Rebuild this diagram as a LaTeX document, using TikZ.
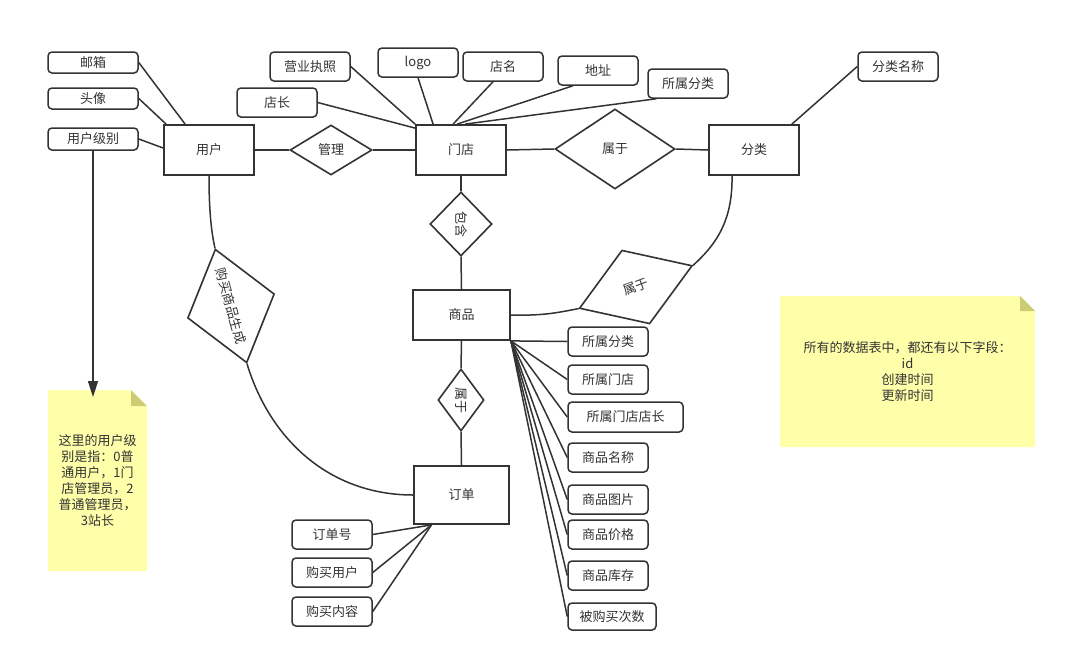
\documentclass[tikz,border=0pt]{standalone}
\usepackage{fontspec}
\setmainfont{Noto Sans CJK SC}
\usetikzlibrary{shapes.geometric,calc,arrows.meta}
\definecolor{ln}{HTML}{333333}
\definecolor{notey}{HTML}{FFFFAA}
\definecolor{notef}{HTML}{CCCC77}
\begin{document}
\begin{tikzpicture}[x=1pt,y=-1pt, font=\fontsize{13}{16}\selectfont, text=ln,
 ent/.style={draw=ln, line width=1.8pt, fill=white, minimum width=90pt, minimum height=50pt, inner sep=0pt},
 rel/.style={draw=ln, diamond, line width=1.6pt, fill=white, inner sep=0pt},
 attr/.style={draw=ln, rounded corners=4pt, line width=1.5pt, fill=white, minimum width=80pt, minimum height=29pt, inner sep=0pt},
 conn/.style={draw=ln, line width=1.5pt},
]
\useasboundingbox[fill=white] (0,0) rectangle (1068,662);

% notes
\fill[notey] (48,390) -- (131,390) -- (147,406) -- (147,571) -- (48,571) -- cycle;
\fill[notef] (131,390) -- (147,406) -- (131,406) -- cycle;
\node[align=center] (note1) at (97.5,480.5) {这里的用户级\\别是指：0普\\通用户，1门\\店管理员，2\\普通管理员，\\3站长};
\fill[notey] (780,296) -- (1020,296) -- (1035,311) -- (1035,447) -- (780,447) -- cycle;
\fill[notef] (1020,296) -- (1035,311) -- (1020,311) -- cycle;
\node[align=center, font=\fontsize{13}{15.7}\selectfont] (note2) at (907.5,371.5) {所有的数据表中，都还有以下字段：\\id\\创建时间\\更新时间};

% entities
\node[ent] (user) at (209,150) {用户};
\node[ent] (store) at (461,150) {门店};
\node[ent] (cls) at (754,150) {分类};
\node[ent, minimum width=97pt] (goods) at (461.5,315) {商品};
\node[ent, minimum width=95pt, minimum height=58pt] (order) at (461.5,495) {订单};

% relations
\node[rel, minimum width=82pt, minimum height=50pt] (manage) at (331,150) {管理};
\node[rel, minimum width=120pt, minimum height=80pt] (belong1) at (615,149) {属于};
\node[rel, minimum width=62pt, minimum height=64pt] (contain) at (461,224) {\rotatebox{-90}{包含}};
\node[rel, minimum width=46pt, minimum height=62pt] (belong2) at (461,400) {\rotatebox{-90}{属于}};
\node[rel, rotate=-74.5, minimum width=118pt, minimum height=86.5pt] (buy) at (231,306) {购买商品生成};
\node[rel, rotate=20.7, minimum width=120.8pt, minimum height=78.8pt] (belong3) at (635.8,287) {属于};

% user attributes
\node[attr, minimum width=90pt, minimum height=21pt] (mail) at (93,62.5) {邮箱};
\node[attr, minimum width=90pt, minimum height=21pt] (avatar) at (93,98.5) {头像};
\node[attr, minimum width=90pt, minimum height=22pt] (level) at (93,139) {用户级别};

% store attributes
\node[attr] (lic) at (310,66.5) {营业执照};
\node[attr] (owner) at (277,102.5) {店长};
\node[attr] (logo) at (418,62.5) {logo};
\node[attr] (sname) at (503,66.5) {店名};
\node[attr] (addr) at (598,70.5) {地址};
\node[attr] (scls) at (688,83.5) {所属分类};

% class attribute
\node[attr] (cname) at (898,66.5) {分类名称};

% goods attributes
\node[attr] (g1) at (608,341.5) {所属分类};
\node[attr] (g2) at (608,379.5) {所属门店};
\node[attr, minimum width=115pt, minimum height=30pt] (g3) at (625.5,417) {所属门店店长};
\node[attr] (g4) at (608,457.5) {商品名称};
\node[attr] (g5) at (608,499.5) {商品图片};
\node[attr] (g6) at (608,534.5) {商品价格};
\node[attr] (g7) at (608,575.5) {商品库存};
\node[attr, minimum width=88pt, minimum height=27pt] (g8) at (612,616.5) {被购买次数};

% order attributes
\node[attr] (o1) at (332,534.5) {订单号};
\node[attr] (o2) at (332,572.5) {购买用户};
\node[attr] (o3) at (332,611.5) {购买内容};

% connectors: user
\draw[conn] (mail.east) -- ($(user.north west)+(22,0)$);
\draw[conn] (avatar.east) -- ($(user.north west)+(3,0)$);
\draw[conn] (level.east) -- ($(user.west)+(0,-2)$);
\coordinate (lvtip) at (93,397);
\draw[conn, -{Triangle[length=16pt,width=10pt]}] (level.south) -- (lvtip);

\draw[conn] (user.east) -- (manage.west);
\draw[conn] (manage.east) -- (store.west);

% store attributes
\draw[conn] (lic.east) -- (store.north west);
\draw[conn] (owner.east) -- ($(store.north west)+(0,4)$);
\draw[conn] (logo.south) -- ($(store.north west)+(18,0)$);
\draw[conn] ($(sname.south)+(-10,0)$) -- ($(store.north west)+(38,0)$);
\draw[conn] ($(addr.south)+(-25,0)$) -- ($(store.north west)+(42,0)$);
\draw[conn] ($(scls.south west)+(9,0)$) -- ($(store.north west)+(50,0)$);

\draw[conn] (store.east) -- (belong1.west);
\draw[conn] (belong1.east) -- (cls.west);
\draw[conn] (cname.west) -- ($(cls.north east)+(-8,0)$);

\draw[conn] (store.south) -- (contain.north);
\draw[conn] (contain.south) -- (goods.north);
\draw[conn] (goods.south) -- (belong2.north);
\draw[conn] (belong2.south) -- (order.north);

% curves
\draw[conn] (user.south) .. controls (209,215) and (212,235) .. (buy.west);
\draw[conn] (buy.east) .. controls (270,440) and (330,495) .. (order.west);
\draw[conn] ($(cls.south)+(-22,0)$) .. controls (733,225) and (712,248) .. (belong3.east);
\draw[conn] (goods.east) .. controls (545,316) and (560,312) .. (belong3.west);

% goods attributes
\foreach \g in {g1,g2,g3,g4,g5,g6,g7,g8}
  \draw[conn] (goods.south east) -- (\g.west);

% order attributes
\coordinate (ordc) at ($(order.south west)!0.19!(order.south east)$);
\foreach \o in {o1,o2,o3}
  \draw[conn] (ordc) -- (\o.east);
\end{tikzpicture}
\end{document}
